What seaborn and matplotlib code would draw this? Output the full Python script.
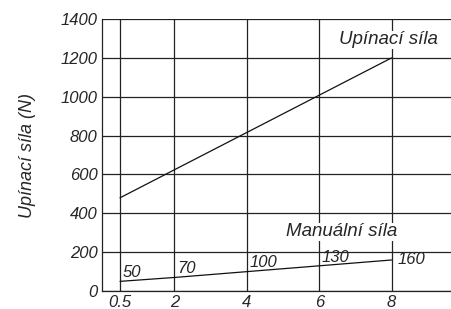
import matplotlib
matplotlib.use("Agg")
import matplotlib.pyplot as plt
import seaborn as sns
import pandas as pd

# data
stroke = [0.5, 2, 4, 6, 8]
clamp_force = [480, 624, 816, 1008, 1200]
manual_force = [50, 70, 100, 130, 160]
manual_labels = ["50", "70", "100", "130", "160"]
y_ticks = [0, 200, 400, 600, 800, 1000, 1200, 1400]

sns.set_style("white")
plt.rcParams["font.family"] = ["Liberation Sans", "DejaVu Sans"]
plt.rcParams["font.style"] = "italic"

df = pd.DataFrame({"x": stroke, "clamp": clamp_force, "manual": manual_force})

fig = plt.figure(figsize=(4.51, 3.09), dpi=100)
ax = fig.add_axes([0.226, 0.058, 0.774, 0.8805])

sns.lineplot(data=df, x="x", y="clamp", ax=ax, color="#111111", lw=0.9, zorder=3)
sns.lineplot(data=df, x="x", y="manual", ax=ax, color="#111111", lw=0.9, zorder=3)

ax.set_xlim(0, 9.64)
ax.set_ylim(0, 1400)
ax.set_xticks(stroke)
ax.set_xticklabels(["0.5", "2", "4", "6", "8"])
ax.set_yticks(y_ticks)
ax.grid(True, color="#222222", lw=0.9)
ax.set_axisbelow(True)
for s in ["top", "right"]:
    ax.spines[s].set_visible(False)
for s in ["left", "bottom"]:
    ax.spines[s].set_color("#222222")
    ax.spines[s].set_linewidth(0.9)
ax.tick_params(axis="both", length=0, labelsize=12, pad=3)
ax.set_xlabel("")
ax.set_ylabel("Upínací síla (N)", fontsize=13, labelpad=18)

for x, y, lab in zip(stroke, manual_force, manual_labels):
    if lab == "160":
        ax.annotate(lab, (x, y), xytext=(4, 0), textcoords="offset points",
                    ha="left", va="center", fontsize=12, zorder=4)
    else:
        ax.annotate(lab, (x, y), xytext=(2, 3), textcoords="offset points",
                    ha="left", va="baseline", fontsize=12, zorder=4)

ax.text(7.9, 1292, "Upínací síla", ha="center", va="center", fontsize=13.5,
        bbox=dict(fc="white", ec="none", pad=0.5), zorder=4)
ax.text(6.63, 305, "Manuální síla", ha="center", va="center", fontsize=13.5,
        bbox=dict(fc="white", ec="none", pad=0.5), zorder=4)

fig.savefig("out.png", dpi=100)
